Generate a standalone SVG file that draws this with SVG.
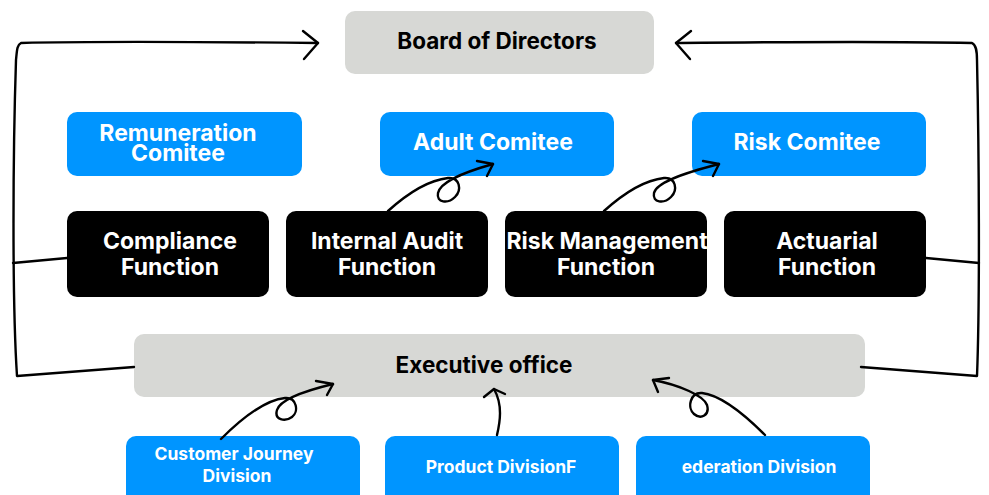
<svg xmlns="http://www.w3.org/2000/svg" width="989" height="495" viewBox="0 0 989 495">
<style>
.gray{fill:#d7d8d5}
.blue{fill:#0095ff}
.dark{fill:#000}
.t{font-family:Inter,"Liberation Sans",sans-serif;font-weight:700;text-anchor:middle}
.tb{fill:#000;font-size:22.5px}
.tw{fill:#fff;font-size:23px}
.ts{fill:#fff;font-size:17.5px}
.ln{fill:none;stroke:#000;stroke-width:2.4;stroke-linecap:round;stroke-linejoin:round}
</style>
<rect width="989" height="495" fill="#fff"/>
<g id="board"><rect class="gray" x="345" y="11" width="309" height="63" rx="10"/><text class="t tb" x="497" y="49">Board of Directors</text></g>
<g id="remuneration"><rect class="blue" x="67" y="112" width="235" height="64" rx="10"/><text class="t tw" x="178" y="141">Remuneration</text><text class="t tw" x="178" y="161">Comitee</text></g>
<g id="adult"><rect class="blue" x="380" y="112" width="234" height="64" rx="10"/><text class="t tw" x="493" y="150">Adult Comitee</text></g>
<g id="risk-comitee"><rect class="blue" x="692" y="112" width="234" height="64" rx="10"/><text class="t tw" x="807" y="150">Risk Comitee</text></g>
<g id="compliance"><rect class="dark" x="67" y="211" width="202" height="86" rx="10"/><text class="t tw" x="170" y="249">Compliance</text><text class="t tw" x="170" y="275">Function</text></g>
<g id="internal-audit"><rect class="dark" x="286" y="211" width="202" height="86" rx="10"/><text class="t tw" x="387" y="249">Internal Audit</text><text class="t tw" x="387" y="275">Function</text></g>
<g id="risk-management"><rect class="dark" x="505" y="211" width="202" height="86" rx="10"/><text class="t tw" x="607" y="249">Risk Management</text><text class="t tw" x="606" y="275">Function</text></g>
<g id="actuarial"><rect class="dark" x="724" y="211" width="202" height="86" rx="10"/><text class="t tw" x="827" y="249">Actuarial</text><text class="t tw" x="827" y="275">Function</text></g>
<g id="executive"><rect class="gray" x="134" y="334" width="731" height="63" rx="10"/><text class="t tb" x="484" y="373">Executive office</text></g>
<g id="customer-journey"><rect class="blue" x="126" y="436" width="234" height="70" rx="10"/><text class="t ts" x="234" y="460">Customer Journey</text><text class="t ts" x="237" y="482">Division</text></g>
<g id="product"><rect class="blue" x="385" y="436" width="234" height="70" rx="10"/><text class="t ts" x="501" y="473">Product DivisionF</text></g>
<g id="federation"><rect class="blue" x="636" y="436" width="234" height="70" rx="10"/><text class="t ts" x="759" y="473">ederation Division</text></g>
<g id="connectors">
<path class="ln" d="M318,43 C220,42 100,41 21,43 C17,45 17,50 16,60 C13,150 12,300 17,376 L134,367"/>
<path class="ln" d="M303,31 L318,43 L304,59"/>
<path class="ln" d="M67,258 L13,263"/>
<path class="ln" d="M676,43 C780,42 880,41 972,43 C976,45 977,50 977,60 C979,150 980,300 977,376 L861,367"/>
<path class="ln" d="M691,31 L676,43 L690,59"/>
<path class="ln" d="M926,258 L979,263"/>
<path class="ln" d="M388,211 C408,193 430,180 448,178 C460,177 462,190 455,197 C448,204 436,203 438,193 C440,183 458,174 493,164"/>
<path class="ln" d="M477,161 L493,164 L487,176"/>
<path class="ln" d="M604,211 C624,193 646,180 664,178 C676,177 678,190 671,197 C664,204 652,203 654,193 C656,183 680,174 719,164"/>
<path class="ln" d="M703,161 L719,164 L713,176"/>
<path class="ln" d="M221,439 C240,420 265,400 285,398 C297,397 299,412 292,417 C285,422 274,420 277,410 C280,400 300,392 333,384"/>
<path class="ln" d="M316,381 L333,384 L327,395"/>
<path class="ln" d="M765,435 C745,415 720,395 702,393 C690,392 687,408 694,414 C701,420 710,415 707,405 C704,396 680,385 653,380"/>
<path class="ln" d="M669,378 L653,380 L658,392"/>
<path class="ln" d="M497,435 C500,422 503,405 494,389"/>
<path class="ln" d="M484,397 L494,389 L505,394"/>
</g>
</svg>
